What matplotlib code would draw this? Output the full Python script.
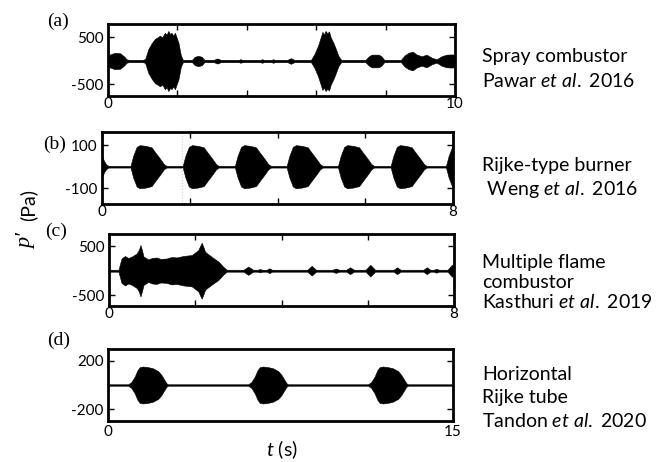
import numpy as np
import matplotlib
matplotlib.use("Agg")
import matplotlib.pyplot as plt

plt.rcParams['font.family'] = ['Lato', 'DejaVu Sans']
plt.rcParams['mathtext.fontset'] = 'custom'
plt.rcParams['mathtext.rm'] = 'Lato'
plt.rcParams['mathtext.it'] = 'Lato:italic'
plt.rcParams['axes.unicode_minus'] = False

# envelope of p' (Pa): time (s), half-amplitude (Pa)
a_t = [0, 0.06, 0.2, 0.35, 0.46, 0.54, 0.6,
       1.0, 1.07, 1.16, 1.26, 1.35, 1.42, 1.5, 1.56, 1.64, 1.69, 1.74, 1.79, 1.83, 1.88, 1.93, 2.03, 2.1, 2.16,
       2.42, 2.5, 2.6, 2.7, 2.78,
       3.05, 3.15, 3.25,
       3.77, 3.82, 3.87,
       4.39, 4.44, 4.49,
       4.71, 4.76, 4.81,
       5.17, 5.27, 5.37,
       5.85, 5.95, 6.05, 6.12, 6.18, 6.22, 6.27, 6.32, 6.37, 6.42, 6.5, 6.57, 6.64, 6.72,
       7.42, 7.52, 7.6, 7.8, 7.88, 7.96,
       8.44, 8.55, 8.65, 8.78, 8.89, 9.04, 9.18, 9.33, 9.47, 9.61, 9.76, 9.9, 10.0]
a_amp = [100, 140, 175, 165, 100, 35, 25,
         25, 40, 250, 380, 470, 500, 540, 500, 600, 560, 640, 570, 600, 540, 600, 390, 120, 25,
         25, 90, 110, 90, 25,
         25, 55, 25,
         25, 38, 25,
         25, 38, 25,
         25, 38, 25,
         25, 60, 25,
         25, 150, 320, 480, 620, 560, 640, 590, 630, 500, 380, 250, 110, 25,
         25, 100, 135, 135, 100, 25,
         25, 120, 170, 200, 140, 100, 135, 70, 35, 100, 135, 140, 135]

b_t = [0, 0.05, 0.1, 0.15,
       0.65, 0.71, 0.79, 0.86, 0.99, 1.13, 1.20, 1.32, 1.41, 1.47,
       1.84, 1.90, 1.98, 2.05, 2.18, 2.32, 2.39, 2.51, 2.60, 2.66,
       3.03, 3.09, 3.17, 3.24, 3.37, 3.51, 3.58, 3.70, 3.79, 3.85,
       4.21, 4.27, 4.35, 4.42, 4.55, 4.69, 4.76, 4.88, 4.97, 5.03,
       5.38, 5.44, 5.52, 5.59, 5.72, 5.86, 5.93, 6.05, 6.14, 6.20,
       6.58, 6.64, 6.72, 6.79, 6.92, 7.06, 7.13, 7.25, 7.34, 7.40,
       7.84, 7.90, 7.98, 8.0]
b_amp = [50, 25, 10, 4,
         4, 50, 92, 100, 97, 90, 70, 38, 12, 4,
         4, 50, 92, 100, 97, 90, 70, 38, 12, 4,
         4, 50, 92, 100, 97, 90, 70, 38, 12, 4,
         4, 50, 92, 100, 97, 90, 70, 38, 12, 4,
         4, 50, 92, 100, 97, 90, 70, 38, 12, 4,
         4, 50, 92, 100, 97, 90, 70, 38, 12, 4,
         4, 50, 92, 95]

c_t = [0, 0.22, 0.29, 0.37, 0.45, 0.53, 0.64, 0.69, 0.73, 0.77, 0.8, 0.91, 1.0, 1.1, 1.2,
       1.34, 1.45, 1.57, 1.72, 1.92, 2.07, 2.11, 2.15, 2.19, 2.23, 2.38, 2.54, 2.65, 2.73,
       3.12, 3.23, 3.34,
       3.45, 3.5, 3.55,
       3.66, 3.72, 3.78,
       4.6, 4.7, 4.8,
       5.18, 5.26, 5.34,
       5.5, 5.59, 5.68,
       5.95, 6.06, 6.17,
       6.6, 6.68, 6.76,
       7.29, 7.37, 7.45,
       7.53, 7.59, 7.65,
       7.85, 7.95, 8.0]
c_amp = [20, 20, 250, 300, 260, 290, 350, 420, 525, 400, 290, 230, 260, 270, 240,
         250, 280, 270, 300, 320, 420, 500, 570, 480, 385, 285, 185, 80, 20,
         20, 85, 20,
         20, 35, 20,
         20, 50, 20,
         20, 100, 20,
         20, 45, 20,
         20, 70, 20,
         20, 120, 20,
         20, 70, 20,
         20, 70, 20,
         20, 40, 20,
         20, 120, 110]

d_t = [0,
       0.87, 1.01, 1.16, 1.28, 1.38, 1.52, 1.74, 1.96, 2.18, 2.32, 2.44, 2.54, 2.61,
       6.09, 6.23, 6.38, 6.50, 6.60, 6.74, 6.96, 7.18, 7.40, 7.54, 7.66, 7.76, 7.83,
       11.30, 11.44, 11.59, 11.71, 11.81, 11.95, 12.17, 12.39, 12.61, 12.75, 12.87, 12.97, 13.04,
       15]
d_amp = [6,
         6, 23, 69, 122, 148, 153, 148, 138, 115, 84, 46, 15, 6,
         6, 23, 69, 122, 148, 153, 148, 138, 115, 84, 46, 15, 6,
         6, 23, 69, 122, 148, 153, 148, 138, 115, 84, 46, 15, 6,
         6]

letters = ['(a)', '(b)', '(c)', '(d)']
x_max = [10, 8, 8, 15]
y_ticks = [500, 100, 500, 200]
captions = [['Spray combustor', r'Pawar $\mathit{et\ al.}$ 2016'],
            ['Rijke-type burner', r' Weng $\mathit{et\ al.}$ 2016'],
            ['Multiple flame', 'combustor', r'Kasthuri $\mathit{et\ al.}$ 2019'],
            ['Horizontal', 'Rijke tube', r'Tandon $\mathit{et\ al.}$ 2020']]

W, H = 668, 462
fig = plt.figure(figsize=(W / 100, H / 100), dpi=100)


def px_axes(left, top, right, bottom):
    return fig.add_axes([left / W, 1 - bottom / H, (right - left) / W, (bottom - top) / H])


def ftext(x, y, s, **kw):
    return fig.text(x / W, 1 - y / H, s, **kw)


boxes = [(108, 24, 455, 96), (102, 132, 453, 204), (109, 234, 454, 306), (108, 349, 453, 421)]
ylims = [(-745, 787), (-173, 161), (-720, 749), (-298, 298)]
series = [(a_t, a_amp), (b_t, b_amp), (c_t, c_amp), (d_t, d_amp)]

for i in range(4):
    ax = px_axes(*boxes[i])
    t = np.asarray(series[i][0], dtype=float)
    amp = np.asarray(series[i][1], dtype=float)
    ax.fill_between(t, -amp, amp, color='black', linewidth=0.4)
    ax.set_xlim(0, x_max[i])
    ax.set_ylim(*ylims[i])
    for sp in ax.spines.values():
        sp.set_linewidth(2)
    yt = y_ticks[i]
    ax.set_yticks([-yt, yt])
    ax.set_yticklabels([str(-yt), str(yt)])
    if i < 3:
        ticks = list(range(0, x_max[i] + 1, 2))
        ax.set_xticks(ticks)
        ax.set_xticklabels(['0'] + [''] * (len(ticks) - 2) + [str(x_max[i])])
        ax.tick_params(axis='x', direction='in', length=4, width=1, top=True, bottom=True,
                       labelsize=11, pad=1)
    else:
        ax.set_xticks([0, x_max[i]])
        ax.set_xticklabels(['0', str(x_max[i])])
        ax.tick_params(axis='x', length=0, labelsize=11, pad=3)
    ax.tick_params(axis='y', direction='in', length=4, width=1, left=True, right=True,
                   labelsize=11, pad=3)
    if i == 1:
        ax.axvline(1.82, color='0.8', linestyle=':', linewidth=0.8)

letter_pos = [(58, 21), (55, 144), (56, 231), (59, 340)]
for i, s in enumerate(letters):
    ftext(*letter_pos[i], s, family='Liberation Serif', fontsize=14, ha='center', va='center')

caption_y = [[62, 87], [171, 195], [268, 288, 308], [380, 403, 427]]
for i, lines in enumerate(captions):
    for j, s in enumerate(lines):
        ftext(482, caption_y[i][j], s, fontsize=14, ha='left', va='baseline')

# y label: serif italic p' plus sans (Pa)
ftext(27, 241, "p\u2032", family=['Liberation Serif', 'DejaVu Serif'], style='italic',
      fontsize=16, rotation=90, ha='center', va='center')
ftext(28, 205, "(Pa)", fontsize=14, rotation=90, ha='center', va='center')
ftext(282, 450, r"$t$ (s)", fontsize=14, ha='center', va='center')

fig.savefig('out.png', dpi=100)
